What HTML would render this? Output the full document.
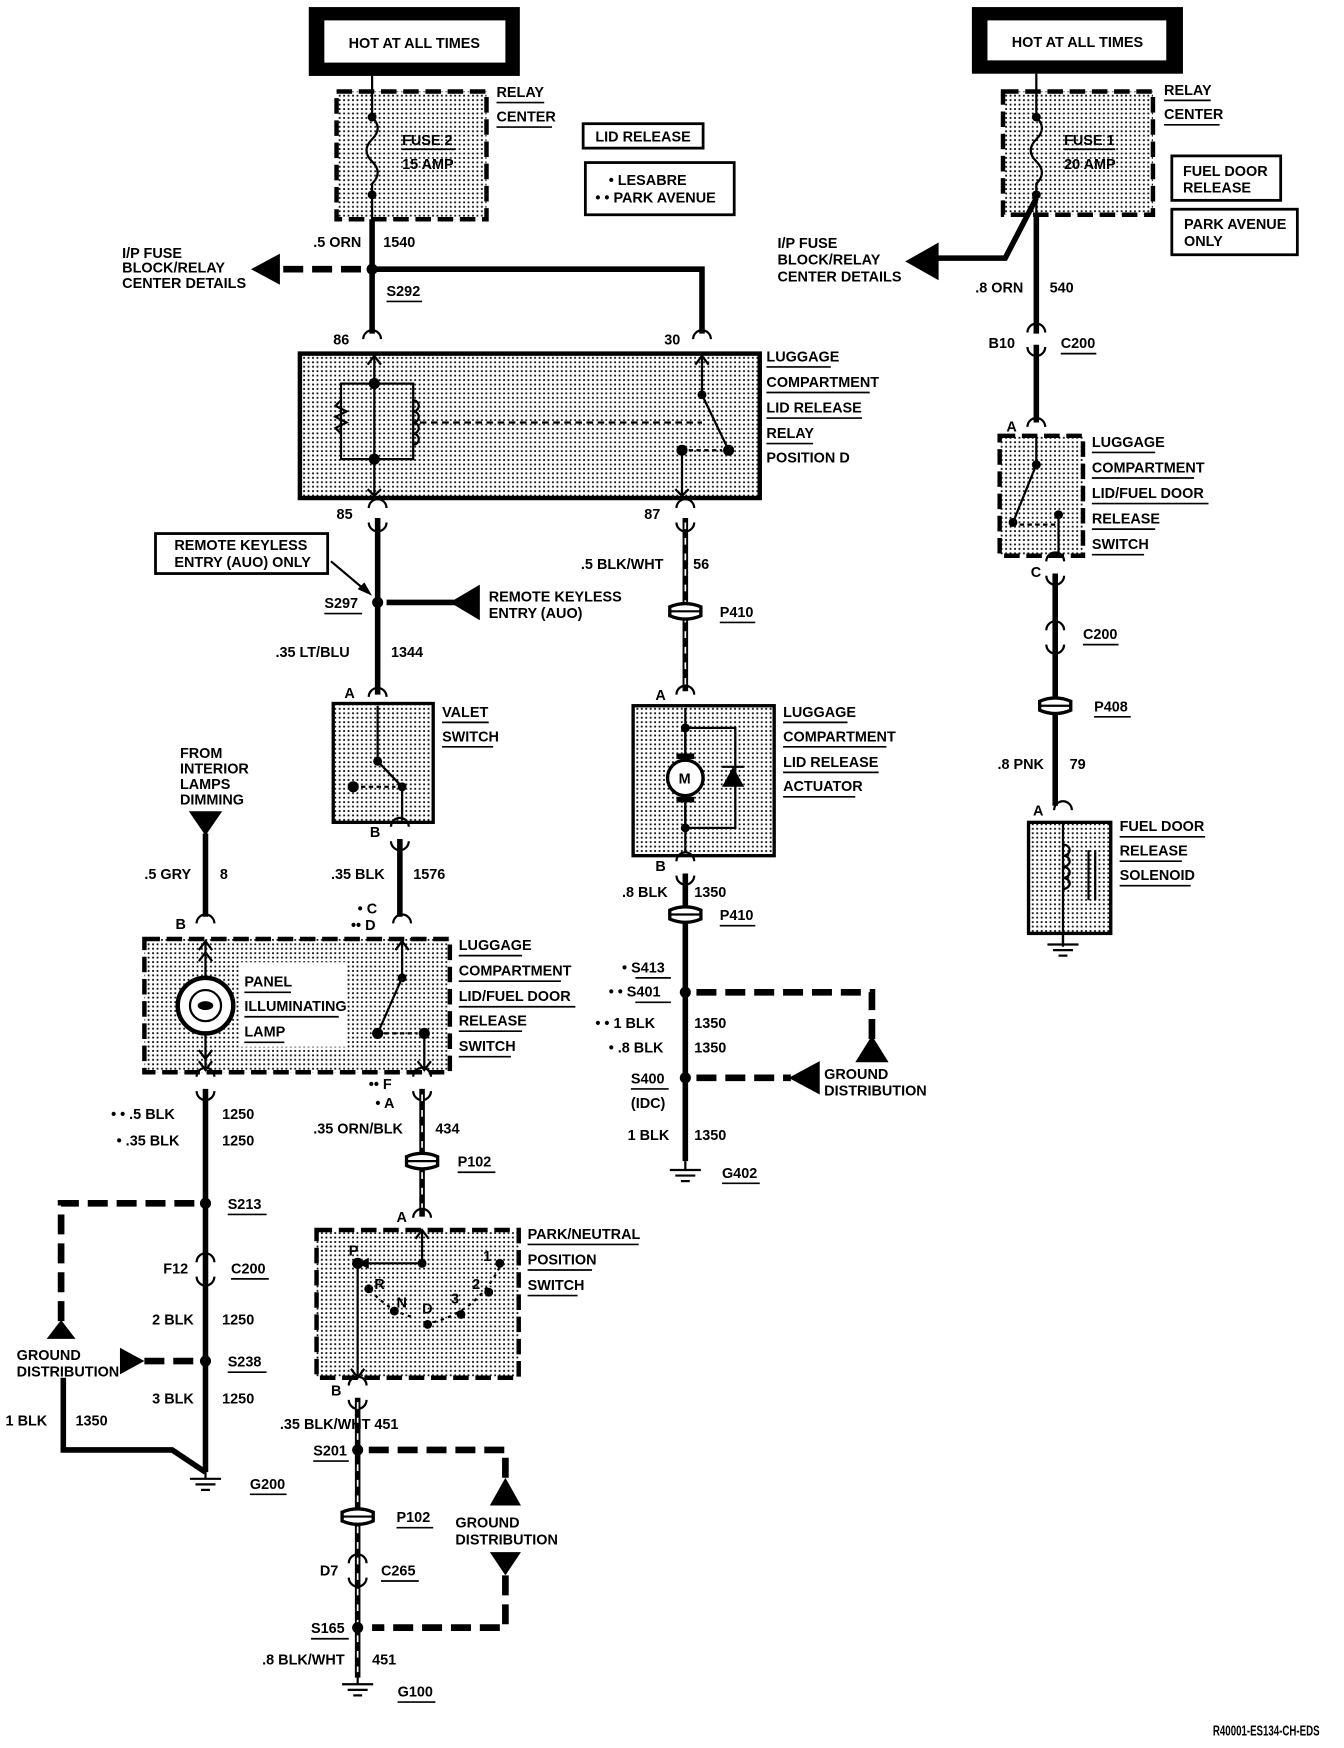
<!DOCTYPE html>
<html><head><meta charset="utf-8"><style>
html,body{margin:0;padding:0;background:#fff}
svg{display:block}
text{font-family:"Liberation Sans",sans-serif;font-weight:bold;font-size:13px;fill:#000}
.w{stroke:#000;stroke-width:5;fill:none}
.d{stroke:#000;stroke-width:6;fill:none;stroke-dasharray:18 8}
.t{stroke:#000;stroke-width:2;fill:none}
.bx{fill:url(#dots);stroke:#000;stroke-width:4;stroke-dasharray:14 6}
.u{stroke:#000;stroke-width:1.5}
</style></head><body>
<svg width="1344" height="1748" viewBox="0 0 1210 1573" xmlns="http://www.w3.org/2000/svg">
<defs>
<pattern id="dots" width="4" height="4" patternUnits="userSpaceOnUse"><rect width="4" height="4" fill="#fff"/><rect x="1" y="1" width="1.6" height="1.6" fill="#000"/></pattern>
<g id="con"><path d="M-8 -1 A8 8 0 0 1 8 -1" class="t" stroke-width="3"/><path d="M-8 12 A8 8 0 0 0 8 12" class="t" stroke-width="3"/></g>
<g id="pc"><path d="M-14 -4 Q0 -10 14 -4 L14 4 Q0 10 -14 4 Z" fill="#fff" stroke="#000" stroke-width="3"/><line x1="-14" y1="0" x2="14" y2="0" stroke="#000" stroke-width="2"/></g>
<g id="gnd"><line x1="0" y1="0" x2="0" y2="8" class="t"/><line x1="-14" y1="8" x2="14" y2="8" class="t"/><line x1="-9" y1="13" x2="9" y2="13" class="t"/><line x1="-4" y1="18" x2="4" y2="18" class="t"/></g>
</defs>

<!-- HOT boxes -->
<rect x="278" y="6" width="190" height="62" fill="#000"/><rect x="292" y="18" width="163" height="38" fill="#fff"/>
<text x="373" y="43" text-anchor="middle">HOT AT ALL TIMES</text>
<rect x="875" y="6" width="190" height="60" fill="#000"/><rect x="889" y="18" width="161" height="36" fill="#fff"/>
<text x="970" y="42" text-anchor="middle">HOT AT ALL TIMES</text>

<!-- Fuse 2 -->
<line x1="335" y1="68" x2="335" y2="82" class="t"/>
<rect x="303" y="82" width="135" height="115" class="bx"/>
<path d="M335 82 V105 Q345 115 335 125 Q325 135 335 145 Q345 155 335 165 V197" class="t" stroke-width="2.5"/>
<circle cx="335" cy="105" r="4"/><circle cx="335" cy="175" r="4"/>
<text x="362" y="130">FUSE 2</text><line x1="362" y1="134" x2="410" y2="134" class="u"/>
<text x="362" y="152">15 AMP</text>
<text x="447" y="87">RELAY</text><line x1="447" y1="92" x2="490" y2="92" class="u"/>
<text x="447" y="109">CENTER</text><line x1="447" y1="114" x2="497" y2="114" class="u"/>
<rect x="525" y="111" width="108" height="22" fill="#fff" stroke="#000" stroke-width="2.5"/><text x="536" y="127">LID RELEASE</text>
<rect x="527" y="146" width="134" height="47" fill="#fff" stroke="#000" stroke-width="2.5"/>
<text x="548" y="166">• LESABRE</text><text x="536" y="182">• • PARK AVENUE</text>

<line x1="335" y1="197" x2="335" y2="300" class="w"/>
<text x="282" y="222">.5 ORN</text><text x="345" y="222">1540</text>
<circle cx="335" cy="242" r="5"/>
<line x1="325" y1="242" x2="252" y2="242" class="d"/>
<polygon points="226,242 252,228 252,256"/>
<text x="110" y="232">I/P FUSE</text><text x="110" y="245">BLOCK/RELAY</text><text x="110" y="259">CENTER DETAILS</text>
<text x="348" y="266">S292</text><line x1="348" y1="271" x2="380" y2="271" class="u"/>
<polyline points="335,242 632,242 632,300" class="w"/>
<use href="#con" x="335" y="306"/><use href="#con" x="632" y="306"/>
<text x="300" y="310">86</text><text x="598" y="310">30</text>

<!-- Relay -->
<rect x="270" y="318" width="414" height="130" fill="url(#dots)" stroke="#000" stroke-width="4"/>
<line x1="337" y1="320" x2="337" y2="446" class="t"/>
<path d="M331 328 L337 320 L343 328 M331 440 L337 446 L343 440" class="t"/>
<rect x="307" y="345" width="65" height="68" class="t" fill="none"/>
<path d="M307 360 l-5 5 l10 5 l-10 5 l10 5 l-10 5 l5 5" class="t" fill="#fff"/>
<path d="M372 360 a5 5 0 0 1 0 10 a5 5 0 0 1 0 10 a5 5 0 0 1 0 10 a5 5 0 0 1 0 10" class="t" fill="#fff"/>
<circle cx="337" cy="345" r="5"/><circle cx="337" cy="413" r="5"/>
<line x1="378" y1="380" x2="632" y2="380" stroke="#000" stroke-width="2" stroke-dasharray="6 4"/>
<line x1="632" y1="320" x2="632" y2="355" class="t"/><path d="M626 328 L632 320 L638 328" class="t"/>
<line x1="632" y1="355" x2="656" y2="405" class="t" stroke-width="2.5"/>
<circle cx="632" cy="355" r="4"/><circle cx="656" cy="405" r="5"/><circle cx="614" cy="405" r="5"/>
<line x1="620" y1="405" x2="650" y2="405" stroke="#000" stroke-width="2" stroke-dasharray="4 3"/>
<line x1="614" y1="405" x2="614" y2="446" class="t"/><path d="M608 440 L614 446 L620 440" class="t"/>
<g><text x="690" y="325">LUGGAGE</text><line x1="690" y1="330" x2="748" y2="330" class="u"/>
<text x="690" y="348">COMPARTMENT</text><line x1="690" y1="353" x2="783" y2="353" class="u"/>
<text x="690" y="371">LID RELEASE</text><line x1="690" y1="376" x2="776" y2="376" class="u"/>
<text x="690" y="394">RELAY</text><line x1="690" y1="399" x2="732" y2="399" class="u"/>
<text x="690" y="416">POSITION D</text></g>

<!-- 85 branch -->
<use href="#con" x="340" y="458"/><text x="303" y="467">85</text>
<use href="#con" x="617" y="458"/><text x="580" y="467">87</text>
<line x1="340" y1="466" x2="340" y2="625" class="w"/>
<rect x="140" y="480" width="155" height="36" fill="#fff" stroke="#000" stroke-width="2.5"/>
<text x="157" y="495">REMOTE KEYLESS</text><text x="157" y="510">ENTRY (AUO) ONLY</text>
<line x1="298" y1="505" x2="330" y2="532" class="t"/><polygon points="335,536 322,530 328,524"/>
<circle cx="340" cy="542" r="5"/>
<text x="292" y="547">S297</text><line x1="292" y1="552" x2="326" y2="552" class="u"/>
<line x1="348" y1="542" x2="410" y2="542" class="w" stroke-width="6"/>
<polygon points="405,542 432,526 432,558"/>
<text x="440" y="541">REMOTE KEYLESS</text><text x="440" y="556">ENTRY (AUO)</text>
<text x="248" y="591">.35 LT/BLU</text><text x="352" y="591">1344</text>

<!-- Valet -->
<use href="#con" x="340" y="628"/><text x="310" y="628">A</text>
<rect x="300" y="633" width="90" height="107" fill="url(#dots)" stroke="#000" stroke-width="3"/>
<line x1="340" y1="635" x2="340" y2="685" class="t"/><circle cx="340" cy="685" r="4"/>
<line x1="340" y1="685" x2="362" y2="708" class="t" stroke-width="2.5"/><circle cx="362" cy="708" r="4"/><circle cx="318" cy="708" r="5"/>
<line x1="325" y1="708" x2="356" y2="708" stroke="#000" stroke-width="2" stroke-dasharray="4 3"/>
<line x1="362" y1="708" x2="362" y2="738" class="t"/>
<text x="398" y="645">VALET</text><line x1="398" y1="650" x2="440" y2="650" class="u"/>
<text x="398" y="667">SWITCH</text><line x1="398" y1="672" x2="444" y2="672" class="u"/>
<use href="#con" x="360" y="745"/><text x="333" y="753">B</text>
<line x1="360" y1="755" x2="360" y2="825" class="w"/>
<text x="298" y="791">.35 BLK</text><text x="372" y="791">1576</text>
<text x="322" y="822">• C</text><text x="316" y="837">•• D</text>
<use href="#con" x="362" y="832"/>

<!-- 87 branch / actuator -->
<line x1="617" y1="466" x2="617" y2="622" class="w"/>
<line x1="617" y1="470" x2="617" y2="620" stroke="#fff" stroke-width="1.5" stroke-dasharray="6 8"/>
<text x="523" y="512">.5 BLK/WHT</text><text x="624" y="512">56</text>
<use href="#pc" x="617" y="550"/><text x="648" y="555">P410</text><line x1="648" y1="560" x2="680" y2="560" class="u"/>
<use href="#con" x="617" y="626"/><text x="590" y="630">A</text>
<rect x="570" y="635" width="127" height="135" fill="url(#dots)" stroke="#000" stroke-width="3"/>
<line x1="617" y1="637" x2="617" y2="768" class="t"/>
<rect x="617" y="655" width="45" height="90" class="t"/>
<circle cx="617" cy="655" r="4"/><circle cx="617" cy="745" r="4"/>
<circle cx="617" cy="700" r="16" fill="#fff" stroke="#000" stroke-width="3"/><text x="611" y="705">M</text>
<rect x="609" y="678" width="16" height="5"/><rect x="609" y="717" width="16" height="5"/>
<polygon points="650,708 670,708 660,690" /><line x1="650" y1="690" x2="670" y2="690" class="t"/>
<text x="705" y="645">LUGGAGE</text><line x1="705" y1="650" x2="763" y2="650" class="u"/>
<text x="705" y="667">COMPARTMENT</text><line x1="705" y1="672" x2="798" y2="672" class="u"/>
<text x="705" y="690">LID RELEASE</text><line x1="705" y1="695" x2="791" y2="695" class="u"/>
<text x="705" y="712">ACTUATOR</text><line x1="705" y1="717" x2="770" y2="717" class="u"/>
<use href="#con" x="617" y="776"/><text x="590" y="784">B</text>
<line x1="617" y1="786" x2="617" y2="1045" class="w"/>
<text x="560" y="807">.8 BLK</text><text x="625" y="807">1350</text>
<use href="#pc" x="617" y="823"/><text x="648" y="828">P410</text><line x1="648" y1="833" x2="680" y2="833" class="u"/>
<text x="560" y="875">• S413</text><line x1="572" y1="880" x2="604" y2="880" class="u"/>
<text x="548" y="897">• • S401</text><line x1="572" y1="902" x2="604" y2="902" class="u"/>
<circle cx="617" cy="893" r="5"/>
<polyline points="627,893 785,893 785,935" class="d"/>
<polygon points="785,932 770,956 800,956"/>
<text x="536" y="925">• • 1 BLK</text><text x="625" y="925">1350</text>
<text x="548" y="947">• .8 BLK</text><text x="625" y="947">1350</text>
<circle cx="617" cy="970" r="5"/>
<text x="568" y="975">S400</text><line x1="568" y1="980" x2="602" y2="980" class="u"/>
<text x="568" y="997">(IDC)</text>
<line x1="627" y1="970" x2="712" y2="970" class="d"/>
<polygon points="710,970 738,955 738,985"/>
<text x="742" y="971">GROUND</text><text x="742" y="986">DISTRIBUTION</text>
<text x="565" y="1026">1 BLK</text><text x="625" y="1026">1350</text>
<use href="#gnd" x="617" y="1045"/><text x="650" y="1060">G402</text><line x1="650" y1="1065" x2="684" y2="1065" class="u"/>

<!-- Right column -->
<rect x="903" y="82" width="135" height="111" class="bx"/>
<path d="M933 66 V105 Q943 115 933 125 Q923 135 933 145 Q943 155 933 165 V193" class="t" stroke-width="2.5"/>
<circle cx="933" cy="105" r="4"/><circle cx="933" cy="175" r="4"/>
<text x="958" y="130">FUSE 1</text><line x1="958" y1="134" x2="1004" y2="134" class="u"/>
<text x="958" y="152">20 AMP</text>
<text x="1048" y="85">RELAY</text><line x1="1048" y1="90" x2="1090" y2="90" class="u"/>
<text x="1048" y="107">CENTER</text><line x1="1048" y1="112" x2="1098" y2="112" class="u"/>
<rect x="1055" y="140" width="98" height="40" fill="#fff" stroke="#000" stroke-width="2.5"/><text x="1065" y="158">FUEL DOOR</text><text x="1065" y="173">RELEASE</text>
<rect x="1055" y="188" width="113" height="41" fill="#fff" stroke="#000" stroke-width="2.5"/><text x="1066" y="206">PARK AVENUE</text><text x="1066" y="221">ONLY</text>
<polyline points="933,178 905,232 843,232" class="w"/>
<polygon points="815,235 845,218 845,252"/>
<text x="700" y="223">I/P FUSE</text><text x="700" y="238">BLOCK/RELAY</text><text x="700" y="253">CENTER DETAILS</text>
<line x1="933" y1="193" x2="933" y2="300" class="w"/>
<text x="878" y="263">.8 ORN</text><text x="945" y="263">540</text>
<use href="#con" x="933" y="300"/><text x="890" y="313">B10</text><text x="955" y="313">C200</text><line x1="955" y1="318" x2="987" y2="318" class="u"/>
<line x1="933" y1="310" x2="933" y2="380" class="w"/>
<use href="#con" x="933" y="385"/><text x="906" y="388">A</text>
<rect x="900" y="392" width="75" height="108" class="bx" stroke-width="3"/>
<line x1="933" y1="394" x2="933" y2="418" class="t"/><circle cx="933" cy="418" r="4"/>
<line x1="933" y1="418" x2="912" y2="470" class="t" stroke-width="2.5"/><circle cx="912" cy="470" r="4"/><circle cx="953" cy="463" r="4"/>
<line x1="918" y1="472" x2="950" y2="472" stroke="#000" stroke-width="2" stroke-dasharray="4 3"/>
<line x1="953" y1="463" x2="953" y2="498" class="t"/>
<text x="983" y="402">LUGGAGE</text><line x1="983" y1="407" x2="1040" y2="407" class="u"/>
<text x="983" y="425">COMPARTMENT</text><line x1="983" y1="430" x2="1075" y2="430" class="u"/>
<text x="983" y="448">LID/FUEL DOOR</text><line x1="983" y1="453" x2="1088" y2="453" class="u"/>
<text x="983" y="471">RELEASE</text><line x1="983" y1="476" x2="1040" y2="476" class="u"/>
<text x="983" y="494">SWITCH</text><line x1="983" y1="499" x2="1030" y2="499" class="u"/>
<use href="#con" x="950" y="506"/><text x="928" y="519">C</text>
<line x1="950" y1="516" x2="950" y2="725" class="w"/>
<use href="#con" x="950" y="568"/><text x="975" y="575">C200</text><line x1="975" y1="580" x2="1007" y2="580" class="u"/>
<use href="#pc" x="950" y="635"/><text x="985" y="640">P408</text><line x1="985" y1="645" x2="1018" y2="645" class="u"/>
<text x="898" y="692">.8 PNK</text><text x="963" y="692">79</text>
<use href="#con" x="957" y="730"/><text x="930" y="734">A</text>
<rect x="926" y="740" width="74" height="100" fill="url(#dots)" stroke="#000" stroke-width="3"/>
<line x1="957" y1="740" x2="957" y2="852" class="t"/>
<path d="M957 760 a6 5 0 0 1 0 10 a6 5 0 0 1 0 10 a6 5 0 0 1 0 10 a6 5 0 0 1 0 10" class="t" fill="#fff"/>
<line x1="980" y1="765" x2="980" y2="810" class="t"/><line x1="986" y1="765" x2="986" y2="810" class="t"/>
<text x="1008" y="748">FUEL DOOR</text><line x1="1008" y1="753" x2="1085" y2="753" class="u"/>
<text x="1008" y="770">RELEASE</text><line x1="1008" y1="775" x2="1064" y2="775" class="u"/>
<text x="1008" y="792">SOLENOID</text><line x1="1008" y1="797" x2="1072" y2="797" class="u"/>
<use href="#gnd" x="957" y="842"/>

<!-- Dimming / lamp -->
<text x="162" y="682">FROM</text><text x="162" y="696">INTERIOR</text><text x="162" y="710">LAMPS</text><text x="162" y="724">DIMMING</text>
<polygon points="170,730 200,730 185,752"/>
<line x1="185" y1="750" x2="185" y2="825" class="w"/>
<text x="130" y="791">.5 GRY</text><text x="198" y="791">8</text>
<use href="#con" x="185" y="832"/><text x="158" y="836">B</text>
<rect x="130" y="845" width="275" height="120" class="bx"/>
<rect x="215" y="866" width="96" height="76" fill="#fff"/>
<line x1="185" y1="847" x2="185" y2="963" class="t"/>
<path d="M179 855 L185 847 L191 855 M179 865 L185 857 L191 865 M179 955 L185 963 L191 955 M179 945 L185 953 L191 945" class="t"/>
<circle cx="185" cy="905" r="25" fill="#fff" stroke="#000" stroke-width="4"/>
<circle cx="185" cy="905" r="14" fill="none" stroke="#000" stroke-width="2"/><ellipse cx="185" cy="905" rx="7" ry="4" fill="#000"/>
<text x="220" y="888">PANEL</text><line x1="220" y1="893" x2="262" y2="893" class="u"/>
<text x="220" y="910">ILLUMINATING</text><line x1="220" y1="915" x2="305" y2="915" class="u"/>
<text x="220" y="933">LAMP</text><line x1="220" y1="938" x2="256" y2="938" class="u"/>
<line x1="362" y1="847" x2="362" y2="880" class="t"/><path d="M356 855 L362 847 L368 855" class="t"/><circle cx="362" cy="880" r="4"/>
<line x1="362" y1="880" x2="340" y2="930" class="t" stroke-width="2.5"/><circle cx="340" cy="930" r="5"/><circle cx="382" cy="930" r="5"/>
<line x1="346" y1="930" x2="376" y2="930" stroke="#000" stroke-width="2" stroke-dasharray="4 3"/>
<line x1="382" y1="930" x2="382" y2="963" class="t"/><path d="M376 955 L382 963 L388 955" class="t"/>
<text x="413" y="855">LUGGAGE</text><line x1="413" y1="860" x2="470" y2="860" class="u"/>
<text x="413" y="878">COMPARTMENT</text><line x1="413" y1="883" x2="505" y2="883" class="u"/>
<text x="413" y="901">LID/FUEL DOOR</text><line x1="413" y1="906" x2="518" y2="906" class="u"/>
<text x="413" y="923">RELEASE</text><line x1="413" y1="928" x2="470" y2="928" class="u"/>
<text x="413" y="946">SWITCH</text><line x1="413" y1="951" x2="460" y2="951" class="u"/>

<!-- lamp down -->
<use href="#con" x="185" y="970"/>
<line x1="185" y1="980" x2="185" y2="1325" class="w"/>
<text x="100" y="1007">• • .5 BLK</text><text x="200" y="1007">1250</text>
<text x="105" y="1031">• .35 BLK</text><text x="200" y="1031">1250</text>
<circle cx="185" cy="1083" r="5"/>
<text x="205" y="1088">S213</text><line x1="205" y1="1093" x2="240" y2="1093" class="u"/>
<polyline points="175,1083 55,1083 55,1195" class="d"/>
<polygon points="55,1188 42,1205 68,1205"/>
<use href="#con" x="185" y="1137"/><text x="147" y="1146">F12</text><text x="208" y="1146">C200</text><line x1="208" y1="1151" x2="242" y2="1151" class="u"/>
<text x="137" y="1192">2 BLK</text><text x="200" y="1192">1250</text>
<circle cx="185" cy="1225" r="5"/>
<text x="205" y="1230">S238</text><line x1="205" y1="1235" x2="240" y2="1235" class="u"/>
<line x1="130" y1="1225" x2="178" y2="1225" class="d"/>
<polygon points="108,1213 108,1237 130,1225"/>
<text x="15" y="1224">GROUND</text><text x="15" y="1239">DISTRIBUTION</text>
<text x="137" y="1263">3 BLK</text><text x="200" y="1263">1250</text>
<polyline points="57,1240 57,1305 155,1305 185,1325" class="w"/>
<text x="5" y="1283">1 BLK</text><text x="68" y="1283">1350</text>
<use href="#gnd" x="185" y="1323"/><text x="225" y="1340">G200</text><line x1="225" y1="1345" x2="258" y2="1345" class="u"/>

<!-- PNP -->
<use href="#con" x="380" y="970"/>
<line x1="380" y1="980" x2="380" y2="1095" class="w"/>
<line x1="380" y1="985" x2="380" y2="1090" stroke="#fff" stroke-width="1.5" stroke-dasharray="6 8"/>
<text x="332" y="980">•• F</text><text x="338" y="997">• A</text>
<text x="282" y="1020">.35 ORN/BLK</text><text x="392" y="1020">434</text>
<use href="#pc" x="380" y="1045"/><text x="412" y="1050">P102</text><line x1="412" y1="1055" x2="446" y2="1055" class="u"/>
<use href="#con" x="380" y="1097"/><text x="357" y="1100">A</text>
<rect x="285" y="1107" width="182" height="133" class="bx"/>
<line x1="380" y1="1107" x2="380" y2="1137" class="t" stroke-width="2.5"/><path d="M374 1115 L380 1107 L386 1115" class="t"/>
<polyline points="380,1137 322,1137" class="t" stroke-width="2.5"/><polygon points="322,1137 332,1132 332,1142"/>
<circle cx="380" cy="1137" r="4"/><circle cx="322" cy="1137" r="5"/>
<line x1="322" y1="1137" x2="322" y2="1240" class="t" stroke-width="2.5"/><path d="M316 1232 L322 1240 L328 1232" class="t"/>
<text x="314" y="1130">P</text><text x="337" y="1160">R</text><text x="357" y="1177">N</text><text x="380" y="1182">D</text><text x="406" y="1173">3</text><text x="425" y="1160">2</text><text x="435" y="1135">1</text>
<path d="M370,1185 Q350 1180 330 1158" class="t" stroke-width="1.5" stroke-dasharray="3 4"/>
<path d="M390,1190 Q430 1180 450 1140" class="t" stroke-width="1.5" stroke-dasharray="3 4"/>
<circle cx="332" cy="1160" r="4"/><circle cx="355" cy="1180" r="4"/><circle cx="385" cy="1192" r="4"/><circle cx="415" cy="1183" r="4"/><circle cx="440" cy="1163" r="4"/><circle cx="450" cy="1137" r="4"/>
<text x="475" y="1115">PARK/NEUTRAL</text><line x1="475" y1="1120" x2="575" y2="1120" class="u"/>
<text x="475" y="1138">POSITION</text><line x1="475" y1="1143" x2="533" y2="1143" class="u"/>
<text x="475" y="1161">SWITCH</text><line x1="475" y1="1166" x2="520" y2="1166" class="u"/>
<use href="#con" x="322" y="1248"/><text x="298" y="1256">B</text>
<line x1="322" y1="1258" x2="322" y2="1510" class="w"/>
<line x1="322" y1="1262" x2="322" y2="1505" stroke="#fff" stroke-width="1.5" stroke-dasharray="6 8"/>
<text x="252" y="1286">.35 BLK/WHT</text><text x="337" y="1286">451</text>
<circle cx="322" cy="1305" r="5"/>
<text x="282" y="1310">S201</text><line x1="282" y1="1315" x2="314" y2="1315" class="u"/>
<polyline points="332,1305 455,1305 455,1335" class="d"/>
<polygon points="455,1330 441,1355 469,1355"/>
<text x="410" y="1375">GROUND</text><text x="410" y="1390">DISTRIBUTION</text>
<polygon points="441,1397 469,1397 455,1418"/>
<polyline points="455,1418 455,1465 335,1465" class="d"/>
<use href="#pc" x="322" y="1365"/><text x="357" y="1370">P102</text><line x1="357" y1="1375" x2="390" y2="1375" class="u"/>
<use href="#con" x="322" y="1408"/><text x="288" y="1418">D7</text><text x="343" y="1418">C265</text><line x1="343" y1="1423" x2="377" y2="1423" class="u"/>
<circle cx="322" cy="1465" r="5"/>
<text x="280" y="1470">S165</text><line x1="280" y1="1475" x2="314" y2="1475" class="u"/>
<text x="236" y="1498">.8 BLK/WHT</text><text x="335" y="1498">451</text>
<use href="#gnd" x="322" y="1508"/><text x="358" y="1527">G100</text><line x1="358" y1="1532" x2="392" y2="1532" class="u"/>

<text x="1092" y="1562" textLength="96" lengthAdjust="spacingAndGlyphs">R40001-ES134-CH-EDS</text>
</svg>
</body></html>
